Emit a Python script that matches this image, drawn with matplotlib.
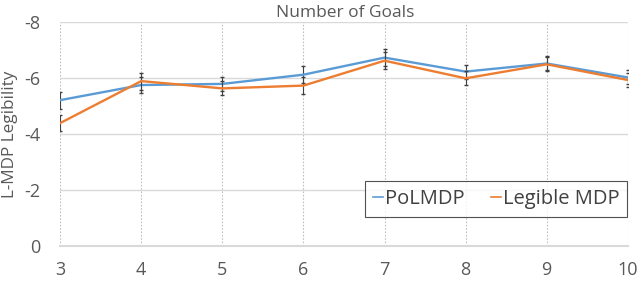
import numpy as np
import matplotlib.pyplot as plt
from matplotlib.lines import Line2D

goals = [3, 4, 5, 6, 7, 8, 9, 10]
polmdp = [-5.21, -5.75, -5.79, -6.12, -6.73, -6.23, -6.52, -6.02]
legible = [-4.39, -5.89, -5.63, -5.73, -6.62, -5.99, -6.49, -5.93]
polmdp_err = [0.3, 0.3, 0.25, 0.3, 0.3, 0.25, 0.25, 0.25]
legible_err = [0.28, 0.3, 0.25, 0.3, 0.3, 0.25, 0.25, 0.25]

plt.rcParams['font.family'] = ['Open Sans', 'DejaVu Sans']

fig = plt.figure(figsize=(6.4, 2.83), dpi=100)
ax = fig.add_axes([0.094, 0.131, 0.887, 0.791])

for g in goals:
    ax.axvline(g, color='#c0c0c0', linestyle=(0, (1.5, 1.5)), linewidth=0.8, zorder=1)
for v in [-2, -4, -6, -8]:
    ax.axhline(v, color='#d9d9d9', linewidth=1.0, zorder=1)

ax.errorbar(goals, polmdp, yerr=polmdp_err, color='#5B9BD5', linewidth=1.7,
            ecolor='#404040', elinewidth=0.8, capsize=1.3, zorder=3)
ax.errorbar(goals, legible, yerr=legible_err, color='#ED7D31', linewidth=1.7,
            ecolor='#404040', elinewidth=0.8, capsize=1.3, zorder=4)

ax.set_xlim(3, 10)
ax.set_ylim(0, -8)
ax.set_xticks(goals)
ax.set_yticks([0, -2, -4, -6, -8])
ax.set_yticklabels(['0', '-2', '-4', '-6', '-8'])
ax.tick_params(length=0, labelsize=13, colors='#595959')
ax.tick_params(axis='y', pad=14)
ax.tick_params(axis='x', pad=11)
for s in ['top', 'right', 'left']:
    ax.spines[s].set_visible(False)
ax.spines['bottom'].set_color('#d9d9d9')
ax.spines['bottom'].set_linewidth(1.5)

ax.set_ylabel('L-MDP Legibility', fontsize=12.3, color='#595959', labelpad=5)
fig.text(0.54, 0.955, 'Number of Goals', ha='center', va='center', fontsize=12.5, color='#595959')

handles = [Line2D([], [], color='#5B9BD5', linewidth=1.2),
           Line2D([], [], color='#ED7D31', linewidth=1.2)]
leg = ax.legend(handles, ['PoLMDP', 'Legible MDP'], loc='lower right',
                bbox_to_anchor=(0.999, 0.13), ncol=2, fontsize=14.5,
                handlelength=0.5, handletextpad=0.1, columnspacing=1.3, frameon=True,
                fancybox=False, borderpad=0.4, borderaxespad=0)
leg.get_frame().set_edgecolor('#262626')
leg.get_frame().set_linewidth(0.8)
for t in leg.get_texts():
    t.set_color('#404040')

fig.savefig('out.png', dpi=100)
